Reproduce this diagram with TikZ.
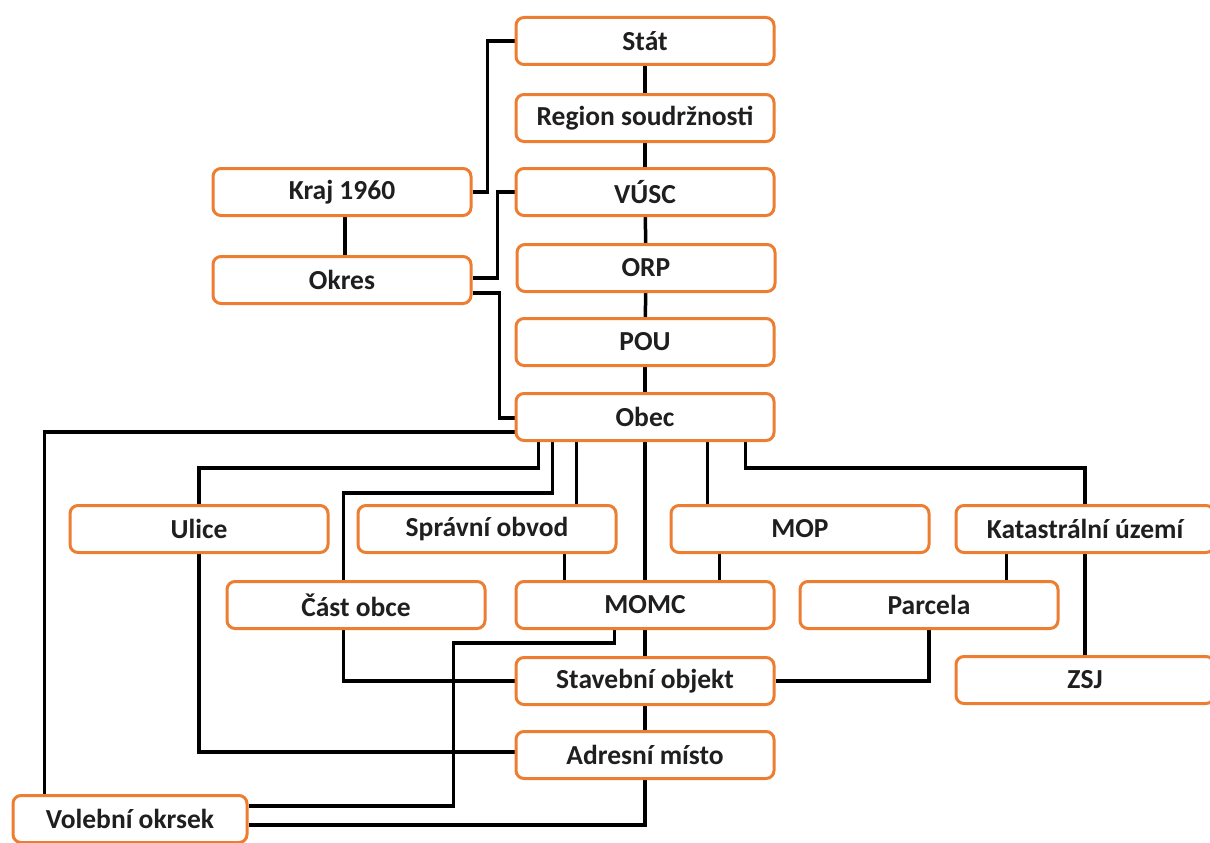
\documentclass[tikz,border=0pt]{standalone}
\usepackage{fontspec}
\setmainfont{Carlito}
\usetikzlibrary{calc}
\pgfdeclarelayer{bg}
\pgfsetlayers{bg,main}
\definecolor{boxorange}{RGB}{237,125,49}
\tikzset{
  box/.style={draw=boxorange, line width=3pt, rounded corners=8pt, fill=white,
    minimum width=258pt, minimum height=47pt, inner sep=0pt,
    font=\fontsize{27.5}{30}\selectfont\bfseries, text=black!88},
  conn/.style={draw=black, line width=3.5pt}
}
\begin{document}
\begin{tikzpicture}[x=1pt,y=-1pt]
\useasboundingbox (0,0) rectangle (1210,843);
% column
\node[box] (stat) at (645,41) {Stát};
\node[box] (region) at (645,118) {Region soudržnosti};
\node[box] (vusc) at (645,192) {VÚSC};
\node[box] (orp) at (646,268) {ORP};
\node[box] (pou) at (645,342) {POU};
\node[box] (obec) at (645,417) {Obec};
\node[box] (kraj) at (342,192) {Kraj 1960};
\node[box] (okres) at (342,280) {Okres};
\node[box] (ulice) at (199,529) {Ulice};
\node[box] (spravni) at (487,529) {Správní obvod};
\node[box] (mop) at (800,529) {MOP};
\node[box] (kat) at (1085,529) {Katastrální území};
\node[box] (cast) at (356,605) {Část obce};
\node[box] (momc) at (645,605) {MOMC};
\node[box] (parcela) at (929,605) {Parcela};
\node[box] (stavebni) at (645,681) {Stavební objekt};
\node[box] (zsj) at (1085,680) {ZSJ};
\node[box] (adresni) at (645,755) {Adresní místo};
\node[box, minimum width=234pt] (volebni) at (130,819) {Volební okrsek};

\begin{pgfonlayer}{bg}
\draw[conn] (stat) -- (region);
\draw[conn] (region) -- (vusc);
\draw[conn] (vusc) -- (orp);
\draw[conn] (orp) -- (pou);
\draw[conn] (pou) -- (obec);
\draw[conn] (kraj.east) -- ++(15,0) |- (stat.west);
\draw[conn] ($(kraj.south)+(3,0)$) coordinate (a) -- (a |- okres.north);
\draw[conn] ($(okres.east)+(0,-2)$) -- ++(25,0) |- (vusc.west);
\draw[conn] ($(okres.east)+(0,13)$) -- ++(27,0) |- ($(obec.west)+(0,1)$);
\draw[conn] ($(obec.west)+(0,15)$) -| ($(volebni.north west)+(33,0)$);
\draw[conn] ($(obec.south west)+(24,0)$) -- ++(0,26) -| (ulice.north);
\draw[conn] ($(obec.south west)+(38,0)$) -- ++(0,51) -| ($(cast.north west)+(118,0)$);
\draw[conn] ($(obec.south west)+(62,0)$) coordinate (b) -- (b |- spravni.north);
\draw[conn] (obec.south) -- (momc.north);
\draw[conn] ($(obec.south west)+(193,0)$) coordinate (c) -- (c |- mop.north);
\draw[conn] ($(obec.south west)+(231,0)$) -- ++(0,26) -| (kat.north);
\draw[conn] (kat.south) -- (zsj.north);
\draw[conn] ($(momc.north west)+(50,0)$) coordinate (d) -- (d |- spravni.south);
\draw[conn] ($(momc.north west)+(205,0)$) coordinate (e) -- (e |- mop.south);
\draw[conn] ($(parcela.north west)+(208,0)$) coordinate (f) -- (f |- kat.south);
\draw[conn] (momc) -- (stavebni);
\draw[conn] ($(momc.south west)+(100,0)$) -- ++(0,13) -- ++(-161,0) |- ($(volebni.east)+(0,-13)$);
\draw[conn] ($(cast.south west)+(118,0)$) |- (stavebni.west);
\draw[conn] (parcela.south) |- (stavebni.east);
\draw[conn] (ulice.south) |- ($(adresni.west)+(0,-3)$);
\draw[conn] (stavebni) -- (adresni);
\draw[conn] (adresni.south) |- ($(volebni.east)+(0,6)$);
\end{pgfonlayer}
\end{tikzpicture}
\end{document}
